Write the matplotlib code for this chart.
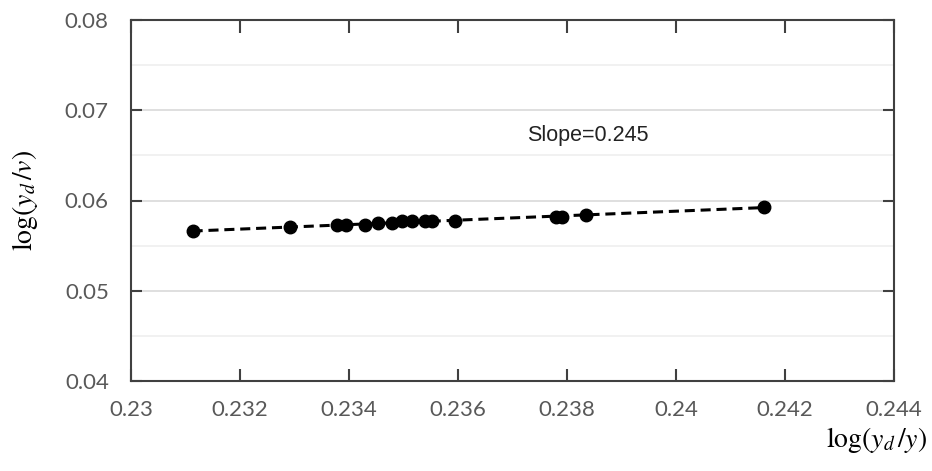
import numpy as np
import matplotlib
matplotlib.use("Agg")
import matplotlib.pyplot as plt
from matplotlib.ticker import MultipleLocator, FuncFormatter

# data
log_yd_y = [0.23113, 0.23291, 0.23378, 0.23395, 0.23430, 0.23453, 0.23479,
            0.23497, 0.23516, 0.23540, 0.23553, 0.23595, 0.23779, 0.23791,
            0.23834, 0.24161]
log_yd_v = [0.0566, 0.0571, 0.0573, 0.0573, 0.0573, 0.0575, 0.0575,
            0.0577, 0.0577, 0.0577, 0.0577, 0.0577, 0.0582, 0.0582,
            0.0584, 0.0593]
slope_text = "Slope=0.245"

plt.rcParams["mathtext.fontset"] = "stix"

fig = plt.figure(figsize=(9.32, 4.71), dpi=100)
ax = fig.add_axes([131 / 932, 90 / 471, 763 / 932, 361 / 471])

# trend line (least squares) drawn dashed over the data range
k, b = np.polyfit(log_yd_y, log_yd_v, 1)
xs = np.array([min(log_yd_y), max(log_yd_y)])
ax.plot(xs, k * xs + b, color="black", lw=2.2, ls=(0, (3.3, 1.9)), zorder=3)
ax.plot(log_yd_y, log_yd_v, "o", color="black", ms=9, zorder=4)

ax.set_xlim(0.23, 0.244)
ax.set_ylim(0.04, 0.08)
ax.xaxis.set_major_locator(MultipleLocator(0.002))
ax.yaxis.set_major_locator(MultipleLocator(0.01))
ax.yaxis.set_minor_locator(MultipleLocator(0.005))
ax.xaxis.set_major_formatter(FuncFormatter(lambda v, p: f"{round(v, 3):g}"))
ax.yaxis.set_major_formatter(FuncFormatter(lambda v, p: f"{v:.2f}"))

ax.grid(axis="y", which="major", color="#d9d9d9", lw=1.2)
ax.grid(axis="y", which="minor", color="#efefef", lw=1.2)
ax.set_axisbelow(True)

for s in ax.spines.values():
    s.set_color("#404040")
    s.set_linewidth(1.5)
ax.tick_params(which="major", direction="in", length=9, width=1.5,
               color="#404040", top=True, right=True,
               labelsize=16, labelcolor="#595959", pad=14)
ax.tick_params(which="minor", length=0)
ax.tick_params(axis="y", length=8, pad=16)
for lab in ax.get_xticklabels() + ax.get_yticklabels():
    lab.set_family("Lato")

ax.text(0.23727, 0.0672, slope_text, fontsize=15.5, family="Liberation Sans",
        color="#222222", ha="left", va="center")

fig.text(25 / 932, 1 - 200 / 471, r"$\mathrm{log}(y_d\,/v)$", rotation=90,
         fontsize=20, ha="center", va="center")
fig.text(877 / 932, 1 - 440 / 471, r"$\mathrm{log}(y_d\,/y)$",
         fontsize=20, ha="center", va="center")

fig.savefig("out.png", dpi=100)
